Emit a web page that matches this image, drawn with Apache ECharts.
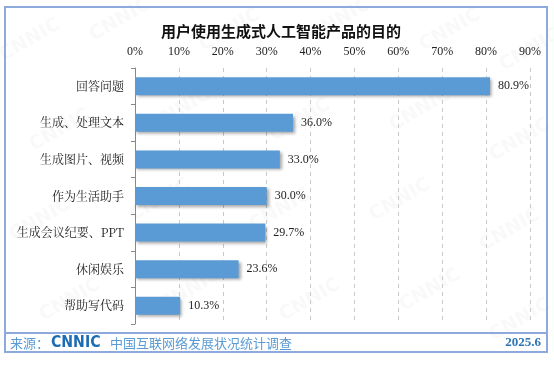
<!DOCTYPE html>
<html>
<head>
<meta charset="utf-8">
<script src="https://cdn.jsdelivr.net/npm/echarts@6/dist/echarts.min.js"></script>
<style>html,body{margin:0;padding:0;background:#fff}#c{width:554px;height:366px}</style>
</head>
<body>
<div id="c"></div>
<script>
var categories = ['回答问题', '生成、处理文本', '生成图片、视频', '作为生活助手', '生成会议纪要、PPT', '休闲娱乐', '帮助写代码'];
var values = [80.9, 36.0, 33.0, 30.0, 29.7, 23.6, 10.3];
var titleText = '用户使用生成式人工智能产品的目的';
var sourceLabel = '来源：';
var sourceName = '中国互联网络发展状况统计调查';
var dateText = '2025.6';

var chart = echarts.init(document.getElementById('c'), null, {renderer: 'canvas'});
var wm = [];
var wmPos = [[30,40],[120,20],[230,30],[340,20],[450,30],[530,50],[60,130],[180,110],[300,120],[420,110],[520,140],[40,220],[160,200],[280,210],[400,200],[510,230],[70,300],[190,290],[310,300],[430,290],[520,320]];
wmPos.forEach(function(p){
  wm.push({type:'text', x:p[0], y:p[1], rotation: Math.PI/6, z:0, silent:true,
    style:{text:'CNNIC', fill:'rgba(190,190,190,0.09)', font:'900 19px "DejaVu Sans"', align:'center', verticalAlign:'middle'}});
});
var option = {
  backgroundColor: '#fff',
  animation: false,
  title: {text: titleText, left: 276, top: 19, textAlign: 'center',
    textStyle: {fontSize: 15, fontWeight: 'bold', color: '#111', fontFamily: '"Noto Sans CJK SC"'}},
  grid: {left: 135, right: 24, top: 68, bottom: 42, containLabel: false},
  xAxis: {type: 'value', position: 'top', min: 0, max: 90, interval: 10,
    axisLine: {show: false}, axisTick: {show: false},
    axisLabel: {formatter: '{value}%', color: '#222', fontSize: 12, fontFamily: '"Liberation Serif"', margin: 10},
    splitLine: {show: true, lineStyle: {type: [4, 4], color: '#c8c8c8', width: 1}}},
  yAxis: {type: 'category', data: categories, inverse: true,
    axisLine: {show: true, lineStyle: {color: '#888', width: 1}},
    axisTick: {show: true, inside: false, length: 4, lineStyle: {color: '#888'}},
    axisLabel: {color: '#222', fontSize: 12, margin: 11, fontFamily: '"Noto Serif CJK SC","Noto Sans CJK SC"'}},
  series: [{type: 'bar', data: values, barWidth: 18,
    itemStyle: {color: '#5B9BD5', shadowColor: 'rgba(0,0,0,0.35)', shadowBlur: 3, shadowOffsetX: 2, shadowOffsetY: 2},
    label: {show: true, position: 'right', distance: 8, formatter: function(p){return p.value.toFixed(1) + '%';},
      color: '#222', fontSize: 12, fontFamily: '"Liberation Serif"'}}],
  graphic: wm.concat([
    {type:'rect', shape:{x:5, y:7, width:542, height:345}, style:{fill:'none', stroke:'#8EA9DB', lineWidth:2}, z:10, silent:true},
    {type:'line', shape:{x1:5, y1:333, x2:547, y2:333}, style:{stroke:'#8EA9DB', lineWidth:2}, z:10, silent:true},
    {type:'text', x:10, y:343, z:10, style:{text:sourceLabel, fill:'#5B9BD5', font:'13px "Noto Sans CJK SC"', verticalAlign:'middle'}},
    {type:'text', x:51, y:343, scaleX:0.88, z:10, style:{text:'CNNIC', fill:'#1C6CB4', font:'900 16px "DejaVu Sans"', verticalAlign:'middle'}},
    {type:'text', x:110, y:343, z:10, style:{text:sourceName, fill:'#5B9BD5', font:'13px "Noto Sans CJK SC"', verticalAlign:'middle'}},
    {type:'text', x:541, y:343, z:10, style:{text:dateText, fill:'#2E75B6', font:'bold 13px "Liberation Serif"', align:'right', verticalAlign:'middle'}}
  ])
};
chart.setOption(option);
</script>
</body>
</html>
